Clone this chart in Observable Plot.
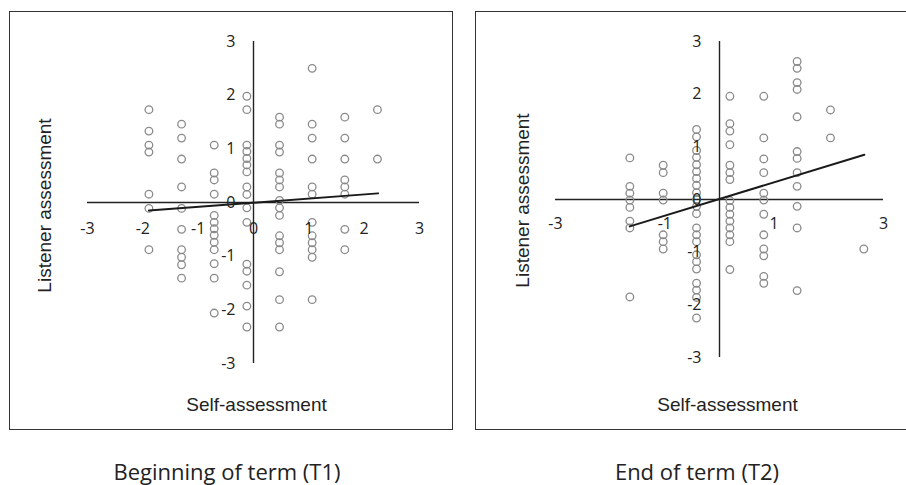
<!DOCTYPE html>
<html>
<head>
<meta charset="utf-8">
<script src="https://cdn.jsdelivr.net/npm/d3@7"></script>
<script src="https://cdn.jsdelivr.net/npm/@observablehq/plot@0.6"></script>
<style>
  html, body { margin: 0; padding: 0; background: #fff; }
  #wrap { position: relative; width: 906px; height: 485px; overflow: hidden; }
  .panel { position: absolute; top: 0; }
  .box { position: absolute; border: 1.4px solid #333; box-sizing: border-box; }
  .title { position: absolute; font-family: "Open Sans", sans-serif; font-size: 22px; line-height: 24px; color: #222; text-align: center; white-space: nowrap; }
</style>
</head>
<body>
<div id="wrap"></div>
<script>
// ---- Data (standardized scores) ----
const t1SelfColumns = [-1.89, -1.30, -0.71, -0.12, 0.47, 1.06, 1.65, 2.24];
const t1Listener = [
  [1.73, 1.33, 1.07, 0.94, 0.155, -0.11, -0.88],
  [1.46, 1.20, 0.81, 0.29, -0.11, -0.50, -0.88, -1.02, -1.16, -1.41],
  [1.07, 0.55, 0.42, 0.155, -0.24, -0.37, -0.49, -0.61, -0.74, -0.88, -1.14, -1.41, -2.06],
  [1.98, 1.73, 1.07, 0.95, 0.82, 0.70, 0.57, 0.29, 0.15, -0.10, -0.37, -1.15, -1.28, -1.54, -1.93, -2.32],
  [1.59, 1.46, 1.07, 0.94, 0.55, 0.42, 0.29, 0.04, -0.10, -0.24, -0.62, -0.75, -0.88, -1.29, -1.81, -2.32],
  [2.50, 1.46, 1.20, 0.81, 0.29, 0.155, -0.37, -0.62, -0.75, -0.88, -1.02, -1.81],
  [1.59, 1.20, 0.81, 0.42, 0.29, 0.155, -0.50, -0.88],
  [1.73, 0.81]
];
const t1TrendX = [-1.89, 2.25];
const t1TrendY = [-0.15, 0.17];

const t2SelfColumns = [-1.64, -1.03, -0.42, 0.19, 0.81, 1.42, 2.03, 2.64];
const t2Listener = [
  [0.79, 0.25, 0.12, -0.01, -0.15, -0.41, -0.54, -1.85],
  [0.65, 0.51, 0.12, -0.01, -0.67, -0.80, -0.94],
  [1.33, 1.19, 0.93, 0.80, 0.66, 0.53, 0.40, 0.27, 0.13, 0.0, -0.13, -0.27, -0.54, -0.67, -0.80, -1.05, -1.18, -1.32, -1.59, -1.72, -1.86, -2.25],
  [1.96, 1.44, 1.30, 1.04, 0.65, 0.51, 0.38, -0.02, -0.15, -0.28, -0.41, -0.54, -0.67, -0.80, -1.33],
  [1.96, 1.17, 0.77, 0.51, 0.12, -0.01, -0.28, -0.67, -0.94, -1.07, -1.46, -1.59],
  [2.62, 2.49, 2.22, 2.09, 1.57, 0.91, 0.78, 0.51, 0.25, -0.13, -0.54, -1.73],
  [1.70, 1.17],
  [-0.94]
];
const t2TrendX = [-1.64, 2.65];
const t2TrendY = [-0.51, 0.85];

const t1XTicks = [-3, -2, -1, 0, 1, 2, 3];
const t1YTicks = [3, 2, 1, 0, -1, -2, -3];
const t2XTicks = [-3, -1, 1, 3];
const t2YTicks = [3, 2, 1, 0, -1, -2, -3];

const xTitle = "Self-assessment";
const yTitle = "Listener assessment";
const panelTitles = ["Beginning of term (T1)", "End of term (T2)"];

// ---- Build ----
function toPoints(cols, vals) {
  const out = [];
  cols.forEach((x, i) => vals[i].forEach(y => out.push({x, y})));
  return out;
}

function makePanel(o) {
  const pts = toPoints(o.cols, o.vals);
  const trend = o.trendX.map((x, i) => ({x, y: o.trendY[i]}));
  const tickFont = {fontFamily: "Open Sans", fontSize: 16, fill: "#222"};
  return Plot.plot({
    width: 453, height: 440,
    marginLeft: o.mL, marginRight: o.mR, marginTop: o.mT, marginBottom: o.mB,
    x: {domain: [-3, 3], axis: null},
    y: {domain: [-3, 3], axis: null},
    style: {background: "transparent", overflow: "visible"},
    marks: [
      Plot.ruleY([0], {stroke: "#222", strokeWidth: 1.4}),
      Plot.ruleX([0], {stroke: "#222", strokeWidth: 1.4}),
      Plot.dot(pts, {x: "x", y: "y", r: 3.8, stroke: "#8a8a8a", strokeWidth: 1.3, fill: "none"}),
      Plot.line(trend, {x: "x", y: "y", stroke: "#1a1a1a", strokeWidth: 2}),
      Plot.text(o.xTicks, {x: d => d, y: 0, text: d => String(d), dy: o.xdy, ...tickFont}),
      Plot.text(o.yTicks, {x: 0, y: d => d, text: d => String(d), dx: o.ydx, textAnchor: "end", ...tickFont}),
      Plot.text([xTitle], {frameAnchor: "bottom", text: d => d, dx: o.selfDx, dy: o.selfDy,
        textAnchor: "middle", lineAnchor: "middle",
        fontFamily: "Liberation Sans", fontSize: 19, fill: "#222"}),
      Plot.text([yTitle], {frameAnchor: "left", text: d => d, dx: o.listDx, dy: o.listDy, rotate: -90,
        textAnchor: "middle", lineAnchor: "middle",
        fontFamily: "Liberation Sans", fontSize: 19, fill: "#222"})
    ]
  });
}

const wrap = document.getElementById("wrap");

const p1 = makePanel({
  cols: t1SelfColumns, vals: t1Listener, trendX: t1TrendX, trendY: t1TrendY,
  xTicks: t1XTicks, yTicks: t1YTicks,
  mL: 87, mR: 34, mT: 41, mB: 77,
  xdy: 26, ydx: -18, selfDx: 3, selfDy: 41, listDx: -43, listDy: 3
});
const p2 = makePanel({
  cols: t2SelfColumns, vals: t2Listener, trendX: t2TrendX, trendY: t2TrendY,
  xTicks: t2XTicks, yTicks: t2YTicks,
  mL: 102, mR: 23, mT: 41, mB: 83,
  xdy: 24, ydx: -18, selfDx: 8, selfDy: 47, listDx: -33, listDy: 1
});

function addBox(l, t, w, h) {
  const b = document.createElement("div");
  b.className = "box";
  Object.assign(b.style, {left: l + "px", top: t + "px", width: w + "px", height: h + "px"});
  wrap.appendChild(b);
}
addBox(9, 11, 444, 419);
addBox(475, 11, 440, 419);

const d1 = document.createElement("div"); d1.className = "panel"; d1.style.left = "0px"; d1.appendChild(p1); wrap.appendChild(d1);
const d2 = document.createElement("div"); d2.className = "panel"; d2.style.left = "453px"; d2.appendChild(p2); wrap.appendChild(d2);

function addTitle(text, cx) {
  const t = document.createElement("div");
  t.className = "title";
  t.textContent = text;
  Object.assign(t.style, {left: (cx - 200) + "px", width: "400px", top: "459px"});
  wrap.appendChild(t);
}
addTitle(panelTitles[0], 227);
addTitle(panelTitles[1], 697);
</script>
</body>
</html>
